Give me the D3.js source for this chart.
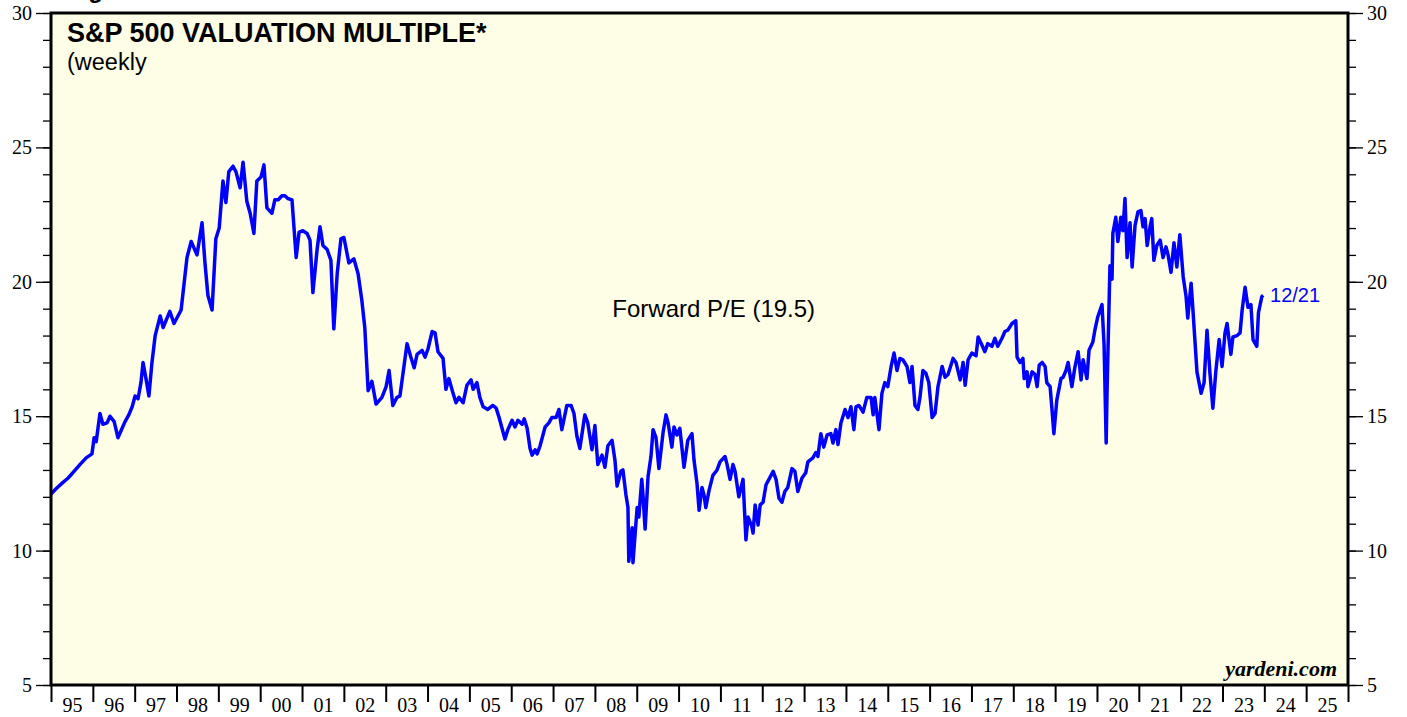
<!DOCTYPE html>
<html>
<head>
<meta charset="utf-8">
<script src="https://cdn.jsdelivr.net/npm/d3@7"></script>
<style>
  body { margin: 0; background: #ffffff; }
  svg { display: block; }
</style>
</head>
<body>
<div id="chart"></div>
<script>
// year labels along the bottom
const yearLabels = ['95','96','97','98','99','00','01','02','03','04','05','06','07','08','09',
                    '10','11','12','13','14','15','16','17','18','19','20','21','22','23','24','25']

// forward P/E readings, date as decimal year
const dates = [
  1995.00,1995.12,1995.26,1995.41,1995.55,1995.69,1995.84,1995.98,
  1996.03,1996.08,1996.17,1996.24,1996.34,1996.41,1996.51,1996.60,1996.70,1996.77,1996.86,1996.94,
  1997.01,1997.08,1997.15,1997.20,1997.27,1997.34,1997.41,1997.49,1997.61,1997.68,1997.84,1997.94,
  1998.11,1998.25,1998.35,1998.49,1998.61,1998.68,1998.75,1998.85,1998.94,
  1999.02,1999.11,1999.18,1999.25,1999.35,1999.42,1999.52,1999.59,1999.68,1999.76,1999.85,1999.92,
  2000.02,2000.09,2000.16,2000.28,2000.35,2000.43,2000.52,2000.59,2000.66,2000.76,2000.86,2000.93,
  2001.02,2001.12,2001.19,2001.26,2001.36,2001.43,2001.50,2001.60,2001.69,2001.76,2001.84,2001.93,
  2002.00,2002.12,2002.24,2002.34,2002.43,2002.50,2002.58,2002.67,2002.77,2002.91,
  2003.01,2003.08,2003.17,2003.27,2003.34,2003.51,2003.60,2003.68,2003.75,2003.87,2003.94,
  2004.01,2004.11,2004.18,2004.25,2004.37,2004.44,2004.51,2004.61,2004.68,2004.75,2004.85,2004.94,
  2005.04,2005.09,2005.18,2005.25,2005.33,2005.44,2005.56,2005.64,2005.71,2005.85,2005.92,
  2006.02,2006.09,2006.16,2006.26,2006.31,2006.38,2006.45,2006.50,2006.57,2006.62,2006.69,2006.81,2006.90,2006.97,
  2007.07,2007.14,2007.21,2007.33,2007.43,2007.50,2007.57,2007.64,2007.76,2007.83,2007.93,
  2008.00,2008.07,2008.17,2008.24,2008.31,2008.41,2008.48,2008.53,2008.62,2008.67,2008.74,2008.79,2008.81,2008.89,2008.91,2008.96,
  2009.01,2009.05,2009.12,2009.15,2009.20,2009.27,2009.34,2009.39,2009.46,2009.53,2009.63,2009.70,2009.75,2009.84,2009.89,2009.96,
  2010.03,2010.13,2010.22,2010.32,2010.37,2010.44,2010.49,2010.56,2010.61,2010.65,2010.73,2010.82,2010.92,2010.99,
  2011.11,2011.16,2011.23,2011.30,2011.35,2011.44,2011.54,2011.61,2011.66,2011.75,2011.78,2011.83,2011.90,2011.95,
  2012.02,2012.09,2012.16,2012.26,2012.33,2012.40,2012.47,2012.54,2012.61,2012.71,2012.78,2012.85,2012.95,
  2013.04,2013.09,2013.21,2013.28,2013.33,2013.40,2013.47,2013.55,2013.64,2013.69,2013.76,2013.81,2013.88,2013.98,
  2014.05,2014.12,2014.19,2014.24,2014.31,2014.41,2014.50,2014.60,2014.65,2014.69,2014.79,2014.86,2014.93,
  2015.00,2015.08,2015.15,2015.22,2015.29,2015.36,2015.46,2015.53,2015.58,2015.65,2015.72,2015.77,2015.84,2015.91,2015.98,
  2016.06,2016.13,2016.20,2016.30,2016.37,2016.44,2016.56,2016.63,2016.73,2016.80,2016.85,2016.92,
  2017.01,2017.11,2017.16,2017.25,2017.32,2017.39,2017.49,2017.56,2017.63,2017.73,2017.80,2017.87,2017.97,
  2018.06,2018.09,2018.16,2018.23,2018.26,2018.33,2018.35,2018.45,2018.52,2018.57,2018.62,2018.69,2018.76,2018.80,2018.88,2018.92,2018.97,
  2019.04,2019.14,2019.19,2019.26,2019.31,2019.40,2019.47,2019.55,2019.62,2019.67,2019.76,2019.81,2019.90,2019.95,
  2020.02,2020.12,2020.17,2020.22,2020.24,2020.31,2020.36,2020.38,2020.45,2020.50,2020.57,2020.62,2020.67,2020.72,2020.79,2020.84,2020.91,2020.98,
  2021.05,2021.10,2021.15,2021.20,2021.27,2021.31,2021.36,2021.43,2021.51,2021.58,2021.65,2021.70,2021.77,2021.84,2021.91,2021.98,
  2022.06,2022.13,2022.17,2022.25,2022.29,2022.34,2022.39,2022.49,2022.56,2022.63,2022.70,2022.77,2022.84,2022.92,2022.99,
  2023.06,2023.11,2023.20,2023.25,2023.35,2023.42,2023.47,2023.54,2023.61,2023.68,2023.73,2023.82,2023.86,2023.94,2023.97
]

const pe = [
  12.1,12.3,12.5,12.7,12.95,13.2,13.45,13.6,
  14.2,14.05,15.1,14.7,14.75,15.0,14.8,14.2,14.55,14.8,15.05,15.35,
  15.75,15.65,16.25,17.0,16.4,15.75,16.95,18.0,18.73,18.3,18.9,18.45,
  18.95,20.9,21.5,21.0,22.2,20.7,19.5,18.95,21.6,
  22.0,23.75,22.95,24.1,24.3,24.1,23.5,24.45,23.0,22.55,21.8,23.75,
  23.9,24.35,22.75,22.55,23.05,23.05,23.2,23.2,23.1,23.05,20.9,21.85,
  21.9,21.8,21.55,19.6,21.2,22.05,21.35,21.2,20.8,18.25,20.3,21.6,
  21.65,20.7,20.85,20.3,19.3,18.3,15.95,16.3,15.45,15.7,
  16.1,16.7,15.4,15.7,15.75,17.7,17.2,16.8,17.3,17.45,17.2,
  17.5,18.15,18.1,17.4,17.15,16.0,16.4,15.85,15.5,15.7,15.5,16.15,
  16.35,16.0,16.25,15.7,15.35,15.25,15.4,15.3,14.95,14.15,14.5,
  14.85,14.6,14.85,14.7,14.9,14.55,13.8,13.55,13.75,13.6,13.9,14.6,14.75,14.95,
  14.95,15.25,14.5,15.4,15.4,15.1,14.25,13.8,15.05,14.75,13.75,
  14.65,13.2,13.55,13.1,13.9,14.1,13.35,12.4,12.95,13.0,12.1,11.6,9.6,10.85,9.55,10.6,
  11.6,11.25,12.65,12.05,10.8,12.75,13.5,14.5,14.2,13.05,14.4,15.05,14.75,13.85,14.6,14.3,
  14.55,13.1,14.1,14.35,13.35,12.5,11.5,12.35,12.05,11.6,12.25,12.8,13.0,13.3,
  13.5,13.2,12.65,13.2,12.95,12.0,12.65,10.4,11.25,10.9,10.65,11.7,10.95,11.7,
  11.8,12.45,12.65,12.95,12.65,11.95,11.8,12.2,12.35,13.05,12.95,12.2,12.7,
  12.9,13.3,13.45,13.65,13.5,14.35,13.85,14.3,14.35,14.0,14.5,13.95,14.75,15.25,
  14.95,15.35,14.5,15.35,15.4,15.15,15.7,15.7,15.05,15.7,14.5,15.85,16.25,
  16.1,16.85,17.35,16.7,17.15,17.1,16.85,16.25,16.85,15.4,15.25,15.7,16.7,16.6,16.25,
  14.95,15.1,16.1,16.85,16.45,16.55,17.15,17.0,16.35,17.0,16.15,17.1,
  17.35,17.25,17.95,17.65,17.4,17.7,17.6,17.9,17.6,17.9,18.15,18.2,18.45,
  18.55,17.2,17.0,17.15,16.4,16.65,16.1,16.65,16.55,16.1,16.9,17.0,16.85,16.25,16.1,15.35,14.35,
  15.6,16.4,16.45,16.7,17.0,16.1,16.8,17.4,16.35,17.1,16.4,17.45,17.75,18.2,
  18.7,19.15,17.65,14.0,15.85,20.6,20.1,21.8,22.4,21.5,22.4,21.9,23.1,20.9,22.2,20.55,22.1,22.6,
  22.65,22.05,22.35,21.35,22.05,22.35,20.8,21.35,21.55,20.9,21.3,21.0,20.35,21.45,20.55,21.75,
  20.2,19.45,18.65,19.95,19.05,17.85,16.65,15.85,16.25,18.2,16.6,15.3,16.65,17.85,16.85,
  18.1,18.45,17.3,17.95,18.0,18.1,18.95,19.8,19.05,19.15,17.85,17.6,18.85,19.45,19.5
]

const series = dates.map((t, i) => ({t: t, v: pe[i]}))

const width = 1407
const height = 717
const mLeft = 51, mRight = 1348, mTop = 13, mBottom = 685

const serif = '"Liberation Serif", "Times New Roman", serif'
const sans = 'Arial, "Liberation Sans", sans-serif'

const svg = d3.select('#chart')
  .append('svg')
  .attr('width', width)
  .attr('height', height)

const x = d3.scaleLinear().domain([1995, 2026]).range([mLeft, mRight])
const y = d3.scaleLinear().domain([5, 30]).range([mBottom, mTop])

// plot background
svg.append('rect')
  .attr('x', mLeft).attr('y', mTop)
  .attr('width', mRight - mLeft).attr('height', mBottom - mTop)
  .attr('fill', '#fefee6')

// heading above the frame, mostly outside the picture (as in the original)
svg.append('text')
  .attr('x', 67).attr('y', -2)
  .style('font-family', sans).style('font-weight', 'bold').style('font-size', '24px')
  .text('Figure')

// y axes, left and right (major + minor ticks)
function yAxes(axisFn, xpos) {
  const minor = svg.append('g')
    .attr('transform', 'translate(' + xpos + ',0)')
    .call(axisFn(y).tickValues(d3.range(5, 31)).tickSize(8).tickFormat(''))
  const major = svg.append('g')
    .attr('transform', 'translate(' + xpos + ',0)')
    .call(axisFn(y).tickValues(d3.range(5, 31, 5)).tickSize(15).tickPadding(4).tickFormat(d3.format('d')))
  ;[minor, major].forEach(g => {
    g.select('.domain').remove()
    g.selectAll('line').attr('stroke', '#000').attr('stroke-width', 1.3)
  })
  major.selectAll('text')
    .style('font-family', serif).style('font-size', '20px').attr('fill', '#000')
}
yAxes(d3.axisLeft, mLeft)
yAxes(d3.axisRight, mRight)

// x axis: tick at each year boundary, label in the middle of the year
const xTicks = svg.append('g')
  .attr('transform', 'translate(0,' + mBottom + ')')
  .call(d3.axisBottom(x).tickValues(d3.range(1995, 2027)).tickSize(17).tickFormat(''))
xTicks.select('.domain').remove()
xTicks.selectAll('line').attr('stroke', '#000').attr('stroke-width', 2)

const xLabels = svg.append('g')
  .attr('transform', 'translate(0,' + mBottom + ')')
  .call(d3.axisBottom(x)
    .tickValues(yearLabels.map((d, i) => 1995.5 + i))
    .tickSize(0).tickPadding(13)
    .tickFormat((d, i) => yearLabels[i]))
xLabels.select('.domain').remove()
xLabels.selectAll('text')
  .style('font-family', serif).style('font-size', '20px').attr('fill', '#000')

// P/E line
const line = d3.line()
  .x(d => x(d.t))
  .y(d => y(d.v))

svg.append('path')
  .datum(series)
  .attr('d', line)
  .attr('fill', 'none')
  .attr('stroke', '#0000ff')
  .attr('stroke-width', 3.5)
  .attr('stroke-linejoin', 'round')

// frame
svg.append('rect')
  .attr('x', mLeft).attr('y', mTop)
  .attr('width', mRight - mLeft).attr('height', mBottom - mTop)
  .attr('fill', 'none')
  .attr('stroke', '#000')
  .attr('stroke-width', 3)

// titles and labels
svg.append('text')
  .attr('x', 67).attr('y', 42)
  .style('font-family', sans).style('font-weight', 'bold').style('font-size', '27px')
  .text('S&P 500 VALUATION MULTIPLE*')

svg.append('text')
  .attr('x', 67).attr('y', 70)
  .style('font-family', sans).style('font-size', '23.5px')
  .text('(weekly')

svg.append('text')
  .attr('x', x(2010.84)).attr('y', y(18.7))
  .attr('text-anchor', 'middle')
  .style('font-family', sans).style('font-size', '24px')
  .text('Forward P/E (19.5)')

const last = series[series.length - 1]
svg.append('text')
  .attr('x', x(last.t) + 7).attr('y', y(last.v) + 7)
  .style('font-family', sans).style('font-size', '20px')
  .attr('fill', '#0000ff')
  .text('12/21')

svg.append('text')
  .attr('x', 1337).attr('y', 676)
  .attr('text-anchor', 'end')
  .style('font-family', serif).style('font-weight', 'bold').style('font-style', 'italic').style('font-size', '22px')
  .text('yardeni.com')
</script>
</body>
</html>
